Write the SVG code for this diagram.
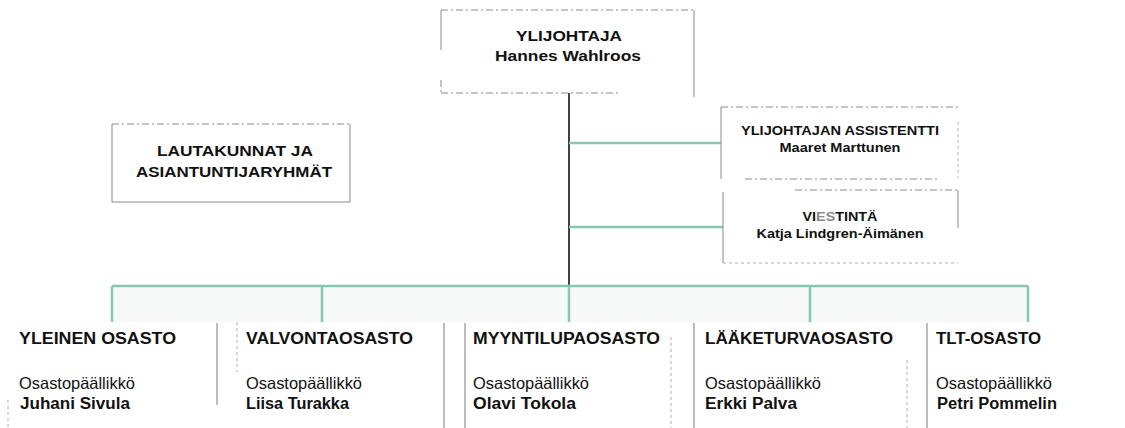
<svg xmlns="http://www.w3.org/2000/svg" width="1125" height="428" viewBox="0 0 1125 428">
<style>
text{font-family:"Liberation Sans",Arial,Helvetica,sans-serif;fill:#111}
.b{font-weight:bold}
.t{font-size:16px;font-weight:bold}
.s{font-size:16.5px}
.n{font-size:16px;font-weight:bold}
.e{stroke:#8a8a8a;stroke-width:1;fill:none}
.d{stroke:#8a8a8a;stroke-width:1;fill:none;stroke-dasharray:7 3 2 3}
.f{stroke:#b0b0b0;stroke-width:1;fill:none;stroke-dasharray:3 3}
.g{stroke:#86c9b0;stroke-width:2.5;fill:none}
.sep{stroke:#9a9a9a;stroke-width:1.3;fill:none}
</style>
<rect width="1125" height="428" fill="#ffffff"/>

<g id="connectors">
  <rect x="112" y="287" width="916" height="35" fill="#f7f9f9"/>
  <line x1="569" y1="93" x2="569" y2="287" stroke="#111" stroke-width="1.6"/>
  <line class="g" x1="569" y1="143" x2="721" y2="143"/>
  <line class="g" x1="569" y1="227" x2="723" y2="227"/>
  <line class="g" x1="112" y1="286" x2="1028" y2="286"/>
  <line class="g" x1="112" y1="286" x2="112" y2="322"/>
  <line class="g" x1="322" y1="286" x2="322" y2="322"/>
  <line class="g" x1="569" y1="286" x2="569" y2="322"/>
  <line class="g" x1="810" y1="286" x2="810" y2="322"/>
  <line class="g" x1="1028" y1="286" x2="1028" y2="322"/>
</g>

<g id="ylijohtaja">
  <line class="d" x1="441" y1="10" x2="694" y2="10"/>
  <line class="e" x1="441" y1="10" x2="441" y2="50"/>
  <line class="d" x1="441" y1="80" x2="441" y2="93"/>
  <line class="d" x1="441" y1="93" x2="620" y2="93"/>
  <line class="e" x1="694" y1="10" x2="694" y2="97"/>
  <text class="b" x="569" y="41" font-size="15" text-anchor="middle" textLength="106" lengthAdjust="spacingAndGlyphs">YLIJOHTAJA</text>
  <text class="b" x="568" y="61" font-size="15" text-anchor="middle" textLength="146" lengthAdjust="spacingAndGlyphs">Hannes Wahlroos</text>
</g>

<g id="lautakunnat">
  <line class="d" x1="112" y1="124" x2="350" y2="124"/>
  <line class="e" x1="112" y1="124" x2="112" y2="202"/>
  <line class="e" x1="112" y1="202" x2="350" y2="202"/>
  <line class="e" x1="350" y1="124" x2="350" y2="202"/>
  <text class="b" x="235" y="156" font-size="14.5" text-anchor="middle" textLength="156" lengthAdjust="spacingAndGlyphs">LAUTAKUNNAT JA</text>
  <text class="b" x="234" y="177" font-size="14.5" text-anchor="middle" textLength="196" lengthAdjust="spacingAndGlyphs">ASIANTUNTIJARYHMÄT</text>
</g>

<g id="assistentti">
  <line class="d" x1="721" y1="107" x2="958" y2="107"/>
  <line class="e" x1="721" y1="107" x2="721" y2="179"/>
  <line class="d" x1="745" y1="179" x2="940" y2="179"/>
  <line class="f" x1="958" y1="122" x2="958" y2="178"/>
  <text class="b" x="840" y="135" font-size="12.5" text-anchor="middle" textLength="198" lengthAdjust="spacingAndGlyphs">YLIJOHTAJAN ASSISTENTTI</text>
  <text class="b" x="840" y="152" font-size="12.5" text-anchor="middle" textLength="121" lengthAdjust="spacingAndGlyphs">Maaret Marttunen</text>
</g>

<g id="viestinta">
  <line class="d" x1="795" y1="190" x2="958" y2="190"/>
  <line class="e" x1="723" y1="192" x2="723" y2="263"/>
  <line class="f" x1="723" y1="263" x2="958" y2="263"/>
  <line class="e" x1="958" y1="190" x2="958" y2="228"/>
  <text class="b" x="840" y="221" font-size="12.5" text-anchor="middle" textLength="75" lengthAdjust="spacingAndGlyphs">VI<tspan fill="#8a8a8a">ES</tspan>TINTÄ</text>
  <text class="b" x="840" y="238" font-size="12.5" text-anchor="middle" textLength="167" lengthAdjust="spacingAndGlyphs">Katja Lindgren-Äimänen</text>
</g>

<g id="separators">
  <line class="sep" x1="217" y1="323" x2="217" y2="405"/>
  <line class="f" x1="237" y1="322" x2="237" y2="372"/>
  <line class="sep" x1="444" y1="323" x2="444" y2="428"/>
  <line class="sep" x1="465" y1="323" x2="465" y2="428"/>
  <line class="f" x1="671" y1="337" x2="671" y2="428"/>
  <line class="sep" x1="694" y1="323" x2="694" y2="428"/>
  <line class="f" x1="907" y1="360" x2="907" y2="428"/>
  <line class="sep" x1="927" y1="323" x2="927" y2="428"/>
  <line class="f" x1="8" y1="400" x2="8" y2="428"/>
</g>

<g id="yleinen">
  <text class="t" x="19" y="344" textLength="157" lengthAdjust="spacingAndGlyphs">YLEINEN OSASTO</text>
  <text class="s" x="19" y="389" textLength="116" lengthAdjust="spacingAndGlyphs">Osastopäällikkö</text>
  <text class="n" x="20" y="409" textLength="110" lengthAdjust="spacingAndGlyphs">Juhani Sivula</text>
</g>

<g id="valvonta">
  <text class="t" x="246" y="344" textLength="167" lengthAdjust="spacingAndGlyphs">VALVONTAOSASTO</text>
  <text class="s" x="246" y="389" textLength="116" lengthAdjust="spacingAndGlyphs">Osastopäällikkö</text>
  <text class="n" x="246" y="409" textLength="103" lengthAdjust="spacingAndGlyphs">Liisa Turakka</text>
</g>

<g id="myyntilupa">
  <text class="t" x="473" y="344" textLength="187" lengthAdjust="spacingAndGlyphs">MYYNTILUPAOSASTO</text>
  <text class="s" x="473" y="389" textLength="116" lengthAdjust="spacingAndGlyphs">Osastopäällikkö</text>
  <text class="n" x="473" y="409" textLength="103" lengthAdjust="spacingAndGlyphs">Olavi Tokola</text>
</g>

<g id="laaketurva">
  <text class="t" x="705" y="344" textLength="188" lengthAdjust="spacingAndGlyphs">LÄÄKETURVAOSASTO</text>
  <text class="s" x="705" y="389" textLength="116" lengthAdjust="spacingAndGlyphs">Osastopäällikkö</text>
  <text class="n" x="705" y="409" textLength="92" lengthAdjust="spacingAndGlyphs">Erkki Palva</text>
</g>

<g id="tlt">
  <text class="t" x="936" y="344" textLength="105" lengthAdjust="spacingAndGlyphs">TLT-OSASTO</text>
  <text class="s" x="936" y="389" textLength="116" lengthAdjust="spacingAndGlyphs">Osastopäällikkö</text>
  <text class="n" x="937" y="409" textLength="120" lengthAdjust="spacingAndGlyphs">Petri Pommelin</text>
</g>
</svg>
